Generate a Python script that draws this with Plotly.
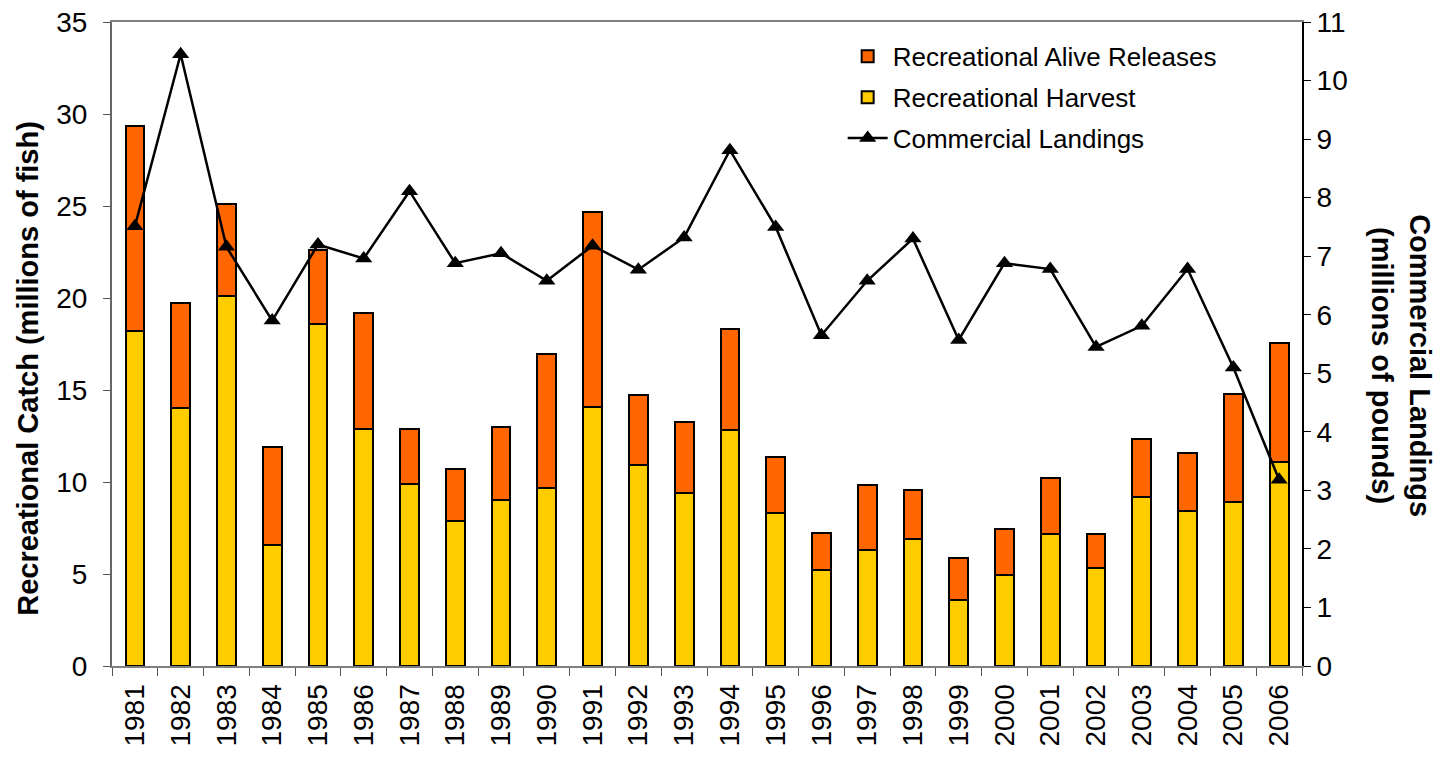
import plotly.graph_objects as go

years = [str(y) for y in range(1981, 2007)]
harvest = [18.2, 14.0, 20.1, 6.6, 18.6, 12.9, 9.9, 7.9, 9.0, 9.7, 14.1, 10.9, 9.4,
           12.8, 8.3, 5.2, 6.3, 6.9, 3.6, 4.95, 7.2, 5.3, 9.2, 8.45, 8.9, 11.1]
releases = [11.15, 5.75, 5.0, 5.3, 4.0, 6.3, 3.0, 2.8, 4.0, 7.25, 10.55, 3.85, 3.85,
            5.5, 3.05, 2.05, 3.55, 2.67, 2.27, 2.47, 3.0, 1.88, 3.13, 3.11, 5.9, 6.45]
commercial = [7.51, 10.45, 7.16, 5.90, 7.20, 6.96, 8.11, 6.88, 7.05, 6.58, 7.18, 6.77, 7.32,
              8.81, 7.50, 5.65, 6.58, 7.30, 5.57, 6.88, 6.78, 5.45, 5.81, 6.78, 5.10, 3.18]
left_ticks = [0, 5, 10, 15, 20, 25, 30, 35]
right_ticks = list(range(0, 12))

FONT = "Arial, Liberation Sans, sans-serif"

fig = go.Figure()
fig.add_trace(go.Bar(
    x=years, y=harvest, name="Recreational Harvest",
    marker=dict(color="#FFCC00", line=dict(color="black", width=2)),
    legendrank=2, legendgroup="h",
))
fig.add_trace(go.Bar(
    x=years, y=releases, name="Recreational Alive Releases",
    marker=dict(color="#FF6600", line=dict(color="black", width=2)),
    legendrank=1, legendgroup="r",
))
fig.add_trace(go.Scatter(
    x=years, y=commercial, name="Commercial Landings", yaxis="y2",
    mode="lines+markers",
    line=dict(color="black", width=2.5),
    marker=dict(symbol="triangle-up", size=15, color="black"),
    legendrank=3, legendgroup="c",
))

# page body has an 8px default margin; compensate so the plot area
# lands at x 112-1302, y 21-669 in the window
fig.update_layout(
    width=1439, height=750,
    margin=dict(l=104, r=145, t=13, b=89),
    paper_bgcolor="white", plot_bgcolor="white",
    barmode="stack", bargap=0.59,
    font=dict(family=FONT, size=28, color="black"),
    showlegend=True,
    legend=dict(x=0.614, y=0.983, xanchor="left", yanchor="top",
                bgcolor="rgba(0,0,0,0)", font=dict(size=26, family=FONT),
                tracegroupgap=4, itemwidth=40),
    xaxis=dict(
        type="category", range=[-0.5, 25.5], tickangle=-90, tickson="boundaries",
        ticks="outside", ticklen=8, tickcolor="#555", ticklabelstandoff=5,
        showline=True, linecolor="#808080", linewidth=2, mirror=True,
        showgrid=False, tickfont=dict(size=28, family=FONT),
    ),
    yaxis=dict(
        range=[0, 35], tickvals=left_ticks, ticks="outside", ticklen=7,
        tickcolor="#555", showline=True, linecolor="#666", linewidth=2,
        showgrid=False, zeroline=False, tickfont=dict(size=28, family=FONT),
        automargin=False, ticklabeloverflow="allow", ticklabelstandoff=10,
    ),
    yaxis2=dict(
        range=[0, 11], tickvals=right_ticks, overlaying="y", side="right",
        ticks="outside", ticklen=7, tickcolor="black", showline=True,
        linecolor="black", linewidth=2, showgrid=False, zeroline=False,
        tickfont=dict(size=28, family=FONT), automargin=False,
        ticklabeloverflow="allow",
    ),
    annotations=[
        dict(text="<b>Recreational Catch (millions of fish)</b>", textangle=-90,
             xref="paper", yref="paper", x=-0.0706, y=0.463,
             xanchor="center", yanchor="middle", showarrow=False,
             font=dict(size=29, family=FONT)),
        dict(text="<b>Commercial Landings<br>(millions of pounds)</b>", textangle=90,
             xref="paper", yref="paper", x=1.083, y=0.466,
             xanchor="center", yanchor="middle", showarrow=False,
             font=dict(size=29, family=FONT)),
    ],
)

fig.write_html("out.html")
